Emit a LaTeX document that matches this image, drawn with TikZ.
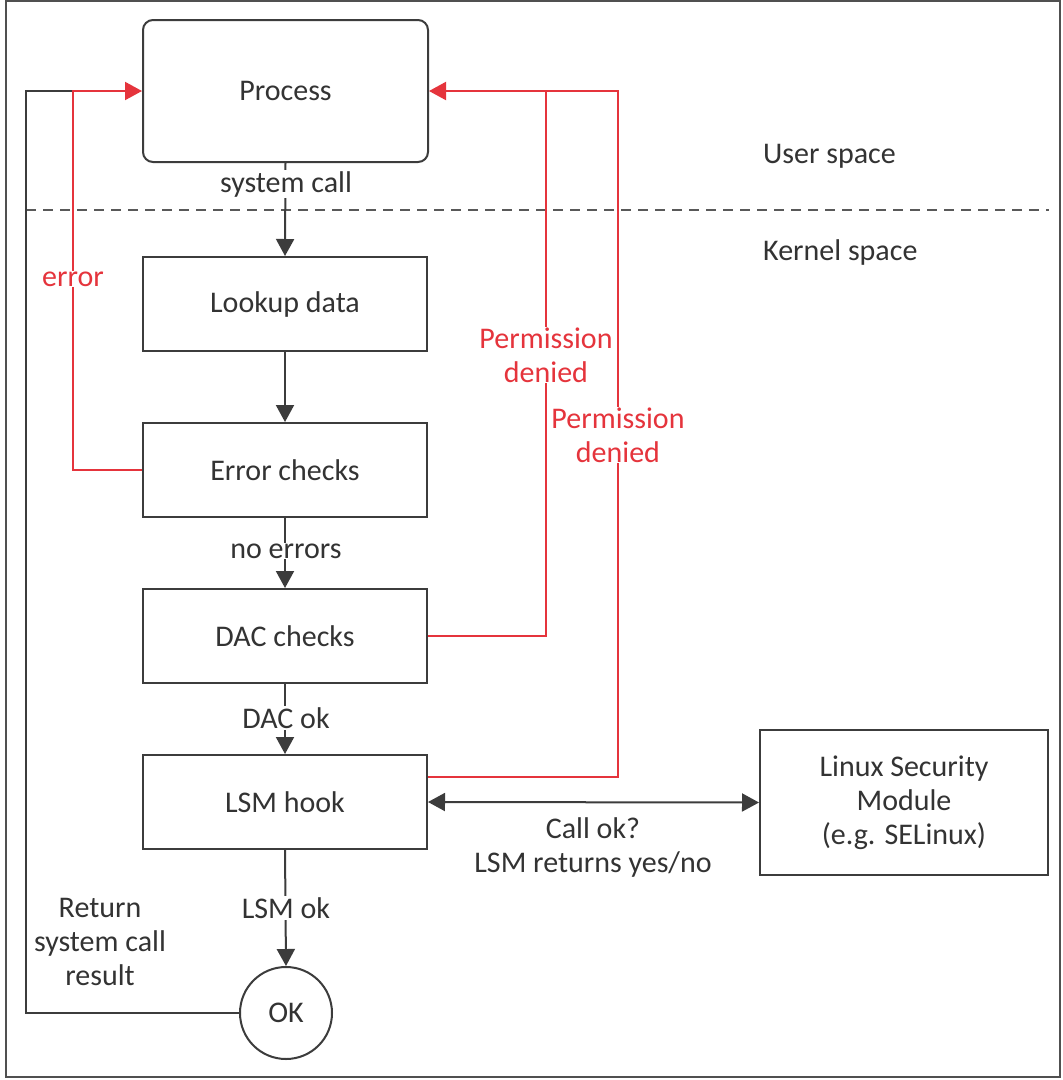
\documentclass[tikz,border=0pt]{standalone}
\usepackage{fontspec}
\setmainfont{Carlito}
\usetikzlibrary{arrows.meta,positioning}
\definecolor{ln}{HTML}{3C3C3C}
\definecolor{tx}{HTML}{333333}
\definecolor{rd}{HTML}{E5343C}
\tikzset{
  box/.style={draw=ln, line width=2pt, rectangle, minimum width=284pt, minimum height=94pt, inner sep=0pt, text=tx, font=\fontsize{30}{34}\selectfont},
  lbl/.style={text=tx, font=\fontsize{30}{34}\selectfont, align=center, inner sep=2pt},
  rlbl/.style={text=rd, font=\fontsize{30}{34}\selectfont, align=center, inner sep=2pt, fill=white},
  conn/.style={draw=ln, line width=2pt, -{Triangle[length=17pt,width=18pt]}},
  rconn/.style={draw=rd, line width=2pt},
}
\begin{document}
\begin{tikzpicture}[x=1pt,y=-1pt]
\useasboundingbox (0,0) rectangle (1063,1080);
\fill[white] (0,0) rectangle (1063,1080);
\draw[draw=ln!90, line width=1.8pt] (6,1) rectangle (1060,1077);
% separator
\draw[draw=ln!85, line width=2pt, dash pattern=on 10pt off 7pt] (26,210) -- (1049,210);
\node[lbl, anchor=west] (us) at (761,156) {User space};
\node[lbl, anchor=west] (ks) at (761,252) {Kernel space};
% nodes
\node[box, rounded corners=10pt, minimum width=285pt, minimum height=142pt] (proc) at (285.5,91) {Process};
\node[box] (lookup) at (285,304) {Lookup data};
\node[box] (err) at (285,470) {Error checks};
\node[box] (dac) at (285,636) {DAC checks};
\node[box] (lsm) at (285,802) {LSM hook};
\node[box, circle, minimum size=92pt] (ok) at (286,1013) {OK};
\node[box, minimum width=288pt, minimum height=145pt, align=center] (mod) at (904,802.5) {Linux Security\\Module\\(e.g. SELinux)};
% coordinates
\coordinate (retl) at (26,1013);
\coordinate (rett) at (26,91);
\coordinate (errc) at (73,91);
\coordinate (p1) at (546,91);
\coordinate (p2) at (618,91);
% black flow
\draw[conn] (proc.south) -- (lookup.north);
\draw[conn] (lookup.south) -- (err.north);
\draw[conn] (err.south) -- (dac.north);
\draw[conn] (dac.south) -- (lsm.north);
\draw[conn] (lsm.south) -- (ok.north);
\draw[draw=ln, line width=2pt] (ok.west) -- (retl) -- (rett) -- (errc);
\draw[draw=ln, line width=2pt, {Triangle[length=17pt,width=18pt]}-{Triangle[length=17pt,width=18pt]}] (lsm.east) -- (mod.west);
% red flow
\draw[rconn, -{Triangle[length=17pt,width=18pt]}] (err.west) -| (errc) -- (proc.west);
\draw[rconn, -{Triangle[length=17pt,width=18pt]}] (dac.east) -| (p1) -- (proc.east);
\draw[rconn] ([yshift=25pt]lsm.east) -| (p2) -- (p1);
% labels
\node[lbl, fill=white, inner sep=1pt] (l1) at (286,184) {system call};
\node[lbl, fill=white, inner sep=1pt] (l2) at (286,551) {no errors};
\node[lbl, fill=white, inner sep=1pt] (l3) at (286,718) {DAC ok};
\node[lbl, fill=white, inner sep=1pt] (l4) at (286,908) {LSM ok};
\node[lbl] (l5) at (100,942) {Return\\system call\\result};
\node[lbl] (l6) at (593,847) {Call ok?\\LSM returns yes/no};
\node[rlbl, inner sep=1pt] (e1) at (73,279) {error};
\node[rlbl, inner sep=1pt] (e2) at (546,355) {Permission\\denied};
\node[rlbl, inner sep=1pt] (e3) at (618,435) {Permission\\denied};
\end{tikzpicture}
\end{document}
